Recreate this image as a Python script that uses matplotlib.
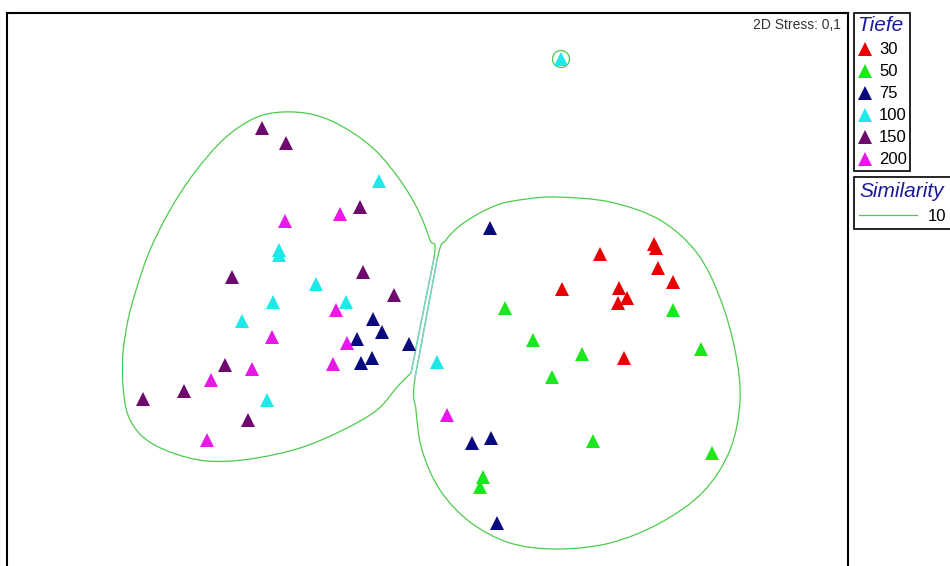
import numpy as np
import matplotlib
matplotlib.use("Agg")
import matplotlib.pyplot as plt
from matplotlib.path import Path
from matplotlib.patches import PathPatch, Circle
from matplotlib.lines import Line2D

plt.rcParams["font.family"] = ["Liberation Sans", "DejaVu Sans"]

# MDS coordinates (screen-like units, y grows downwards)
depths = ["30", "50", "75", "100", "150", "200"]
colors = ["#e60000", "#1ee61e", "#0a0a80", "#20e8e8", "#6e0a6e", "#e619e6"]

x30 = [654, 656, 600, 658, 673, 562, 619, 627, 618, 624]
y30 = [244, 248, 254, 268, 282, 289, 288, 298, 303, 358]
x50 = [505, 673, 533, 582, 701, 552, 593, 712, 483, 480]
y50 = [308, 310, 340, 354, 349, 377, 441, 453, 477, 487]
x75 = [490, 373, 382, 357, 409, 372, 361, 472, 491, 497]
y75 = [228, 319, 332, 339, 344, 358, 363, 443, 438, 523]
x100 = [561, 379, 279, 279, 316, 273, 346, 242, 267, 437]
y100 = [59, 181, 250, 255, 284, 302, 302, 321, 400, 362]
x150 = [262, 286, 360, 232, 363, 394, 225, 184, 143, 248]
y150 = [128, 143, 207, 277, 272, 295, 365, 391, 399, 420]
x200 = [340, 285, 336, 272, 347, 333, 252, 211, 207, 447]
y200 = [214, 221, 310, 337, 343, 364, 369, 380, 440, 415]

xs = [x30, x50, x75, x100, x150, x200]
ys = [y30, y50, y75, y100, y150, y200]

# similarity 10 contours: knots, last segment (back to start) is the shared straight edge
left_x = [411, 398, 377, 343, 300, 250, 207, 170, 143, 128, 123, 123, 128, 137, 150, 170, 195, 225,
          255, 283, 315, 345, 375, 400, 418, 430, 434]
left_y = [373, 386, 410, 430, 448, 459, 461, 452, 437, 415, 385, 353, 320, 287, 250, 210, 172, 138,
          118, 112, 115, 128, 150, 180, 210, 240, 258]
right_x = [437, 446, 465, 497, 527, 557, 610, 660, 697, 720, 735, 740, 730, 703, 660, 610, 557, 510,
           470, 440, 422, 416, 415]
right_y = [260, 240, 222, 205, 199, 197, 202, 220, 253, 298, 350, 400, 450, 492, 523, 543, 549, 543,
           522, 490, 450, 410, 378]
single_x, single_y, single_r = 561, 59, 8.5

OUTLINE = "#4ccc4c"
EDGE = "#7fd3cc"


def contour_path(px, py, corner_start=False):
    # Catmull-Rom knots -> cubic Bezier; closing segment drawn straight
    p = np.column_stack([px, py]).astype(float)
    n = len(p)
    verts = [p[0]]
    codes = [Path.MOVETO]
    for i in range(n - 1):
        p0 = p[i - 1]
        if i == 0 and corner_start:
            p0 = 2 * p[0] - p[1]
        p1, p2, p3 = p[i], p[i + 1], p[(i + 2) % n]
        verts += [p1 + (p2 - p0) / 6, p2 - (p3 - p1) / 6, p2]
        codes += [Path.CURVE4] * 3
    verts.append(p[0])
    codes.append(Path.LINETO)
    return Path(verts, codes)


fig = plt.figure(figsize=(9.5, 5.66), dpi=100)
ax = fig.add_axes([7 / 950, -4 / 566, (848 - 7) / 950, (570 - 12.5) / 566])
ax.set_xlim(7, 848)
ax.set_ylim(570, 12.5)
ax.set_xticks([])
ax.set_yticks([])
for s in ax.spines.values():
    s.set_linewidth(1.5)
    s.set_color("black")

for px, py, cs in [(left_x, left_y, True), (right_x, right_y, False)]:
    ax.add_patch(PathPatch(contour_path(px, py, cs), fill=False,
                           edgecolor=OUTLINE, linewidth=0.9))
    ax.plot([px[-1], px[0]], [py[-1], py[0]], color=EDGE, linewidth=1.0)
ax.add_patch(Circle((single_x, single_y), single_r, fill=False,
                    edgecolor=OUTLINE, linewidth=0.9))

for x, y, c in zip(xs, ys, colors):
    ax.plot(x, y, linestyle="none", marker="^", markersize=9.5, color=c,
            markeredgewidth=0)

ax.text(841, 25, "2D Stress: 0,1", ha="right", va="center", fontsize=10,
        color="#333333")

# legends
handles = [Line2D([], [], linestyle="none", marker="^", markersize=9.5,
                  color=c, markeredgewidth=0) for c in colors]
leg1 = fig.legend(handles, depths, loc="upper left",
                  bbox_to_anchor=(854 / 950, 1 - 13 / 566), fontsize=12,
                  title="Tiefe", alignment="left", fancybox=False,
                  edgecolor="black", framealpha=1, borderpad=0.2,
                  labelspacing=0.42, handlelength=0.9, handletextpad=0.4,
                  borderaxespad=0, title_fontproperties={"size": 15, "style": "italic"})
leg1.get_title().set_color("#1a1a99")
leg1.get_frame().set_linewidth(1.2)

sim_handle = [Line2D([], [], color=OUTLINE, linewidth=0.9)]
leg2 = fig.legend(sim_handle, ["10"], loc="upper left",
                  bbox_to_anchor=(854 / 950, 1 - 177 / 566), fontsize=12,
                  title="Similarity", alignment="left", fancybox=False,
                  edgecolor="black", framealpha=1, borderpad=0.3,
                  handlelength=3.5, handletextpad=0.6, borderaxespad=0,
                  title_fontproperties={"size": 15, "style": "italic"})
leg2.get_title().set_color("#1a1a99")
leg2.get_frame().set_linewidth(1.2)

fig.savefig("out.png", dpi=100)
